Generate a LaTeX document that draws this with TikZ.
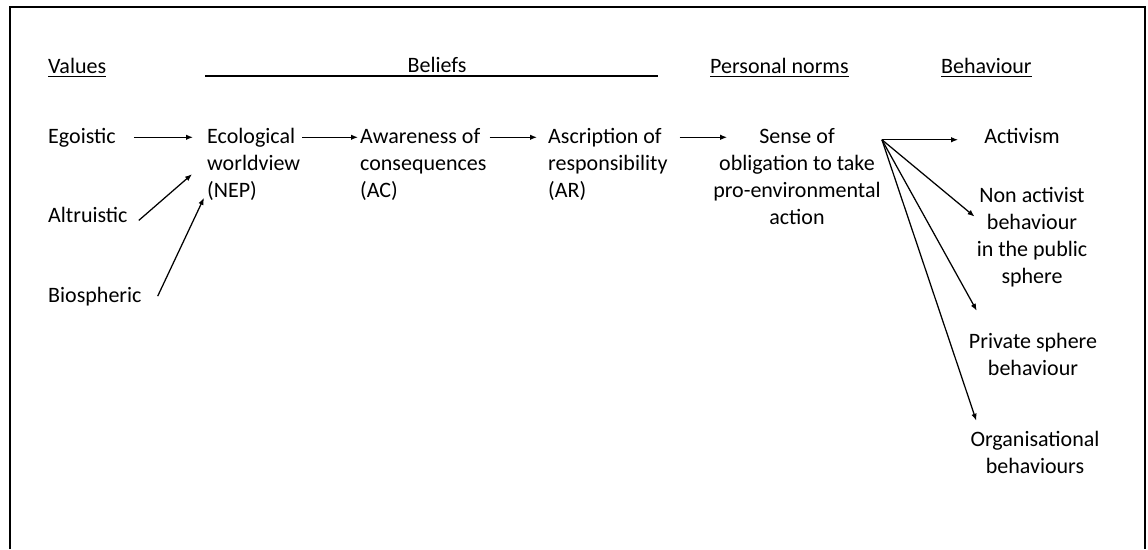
\documentclass[tikz,border=0pt]{standalone}
\usepackage{fontspec}
\setmainfont{Carlito}
\usetikzlibrary{arrows.meta}
\begin{document}
\begin{tikzpicture}[x=1pt,y=-1pt,
  lbl/.style={inner sep=0pt, font=\fontsize{22}{27.3}\selectfont, text=black},
  arr/.style={-{Latex[length=7pt,width=5.5pt]}, line width=1.25pt},
  rulel/.style={line width=1.3pt},
]
\useasboundingbox (0,0) rectangle (1148,549);
% outer frame (open at the bottom)
\draw[line width=1.6pt] (10,549) -- (10,7) -- (1145,7) -- (1145,549);

% column headings
\node[lbl, anchor=base west] (values) at (48,73) {Values};
\node[lbl, anchor=base] (beliefs) at (437,72) {Beliefs};
\node[lbl, anchor=base west] (norms) at (710,73) {Personal norms};
\node[lbl, anchor=base west] (behav) at (941,73) {Behaviour};
\draw[rulel] ([yshift=-3.5pt]values.base west) -- ([yshift=-3.5pt]values.base east);
\draw[rulel] (205,76) -- (658,76);
\draw[rulel] ([yshift=-3.5pt]norms.base west) -- ([yshift=-3.5pt]norms.base east);
\draw[rulel] ([yshift=-3.5pt]behav.base west) -- ([yshift=-3.5pt]behav.base east);

% values
\node[lbl, anchor=base west] (ego) at (48,143) {Egoistic};
\node[lbl, anchor=base west] (alt) at (48,222) {Altruistic};
\node[lbl, anchor=base west] (bio) at (48,302) {Biospheric};

% beliefs (positioned by the baseline of their last line)
\node[lbl, anchor=base west, align=left] (eco) at (207,197.6) {Ecological\\worldview\\(NEP)};
\node[lbl, anchor=base west, align=left] (ac) at (360,197.6) {Awareness of\\consequences\\(AC)};
\node[lbl, anchor=base west, align=left] (ar) at (548,197.6) {Ascription of\\responsibility\\(AR)};

% personal norm
\node[lbl, anchor=base, align=center] (sense) at (797,224.9) {Sense of\\obligation to take\\pro-environmental\\action};

% behaviours
\node[lbl, anchor=base] (act) at (1022,143) {Activism};
\node[lbl, anchor=base, align=center] (nonact) at (1032,283.9) {Non activist\\behaviour\\in the public\\sphere};
\node[lbl, anchor=base, align=center] (priv) at (1033,375.5) {Private sphere\\behaviour};
\node[lbl, anchor=base, align=center] (org) at (1035,473.5) {Organisational\\behaviours};

% value -> belief arrows
\draw[arr, shorten <=18pt, shorten >=14pt] (ego.east) -- (ego.east -| eco.west);
\draw[arr] ([shift={(11,6)}]alt.east) -- ([shift={(-15,10)}]eco.west);
\draw[arr] ([shift={(16,0)}]bio.east) -- ([shift={(-3,-3)}]eco.south west);

% belief chain
\draw[arr, shorten <=2pt, shorten >=2pt] (ego.east -| eco.east) -- (ego.east -| ac.west);
\draw[arr, shorten <=3pt, shorten >=11pt] (ego.east -| ac.east) -- (ego.east -| ar.west);
\draw[arr, shorten <=12pt, shorten >=-14pt] (ego.east -| ar.east) -- (ego.east -| sense.west);

% fan of arrows from the personal norm
\coordinate (fan) at ([shift={(1,12)}]sense.north east);
\draw[arr] (fan) -- ([xshift=-26pt]fan -| act.west);
\draw[arr] (fan) -- ([shift={(-2,30)}]nonact.north west);
\draw[arr] (fan) -- ([shift={(8,-22)}]priv.north west);
\draw[arr] (fan) -- ([shift={(6,-10)}]org.north west);
\end{tikzpicture}
\end{document}
